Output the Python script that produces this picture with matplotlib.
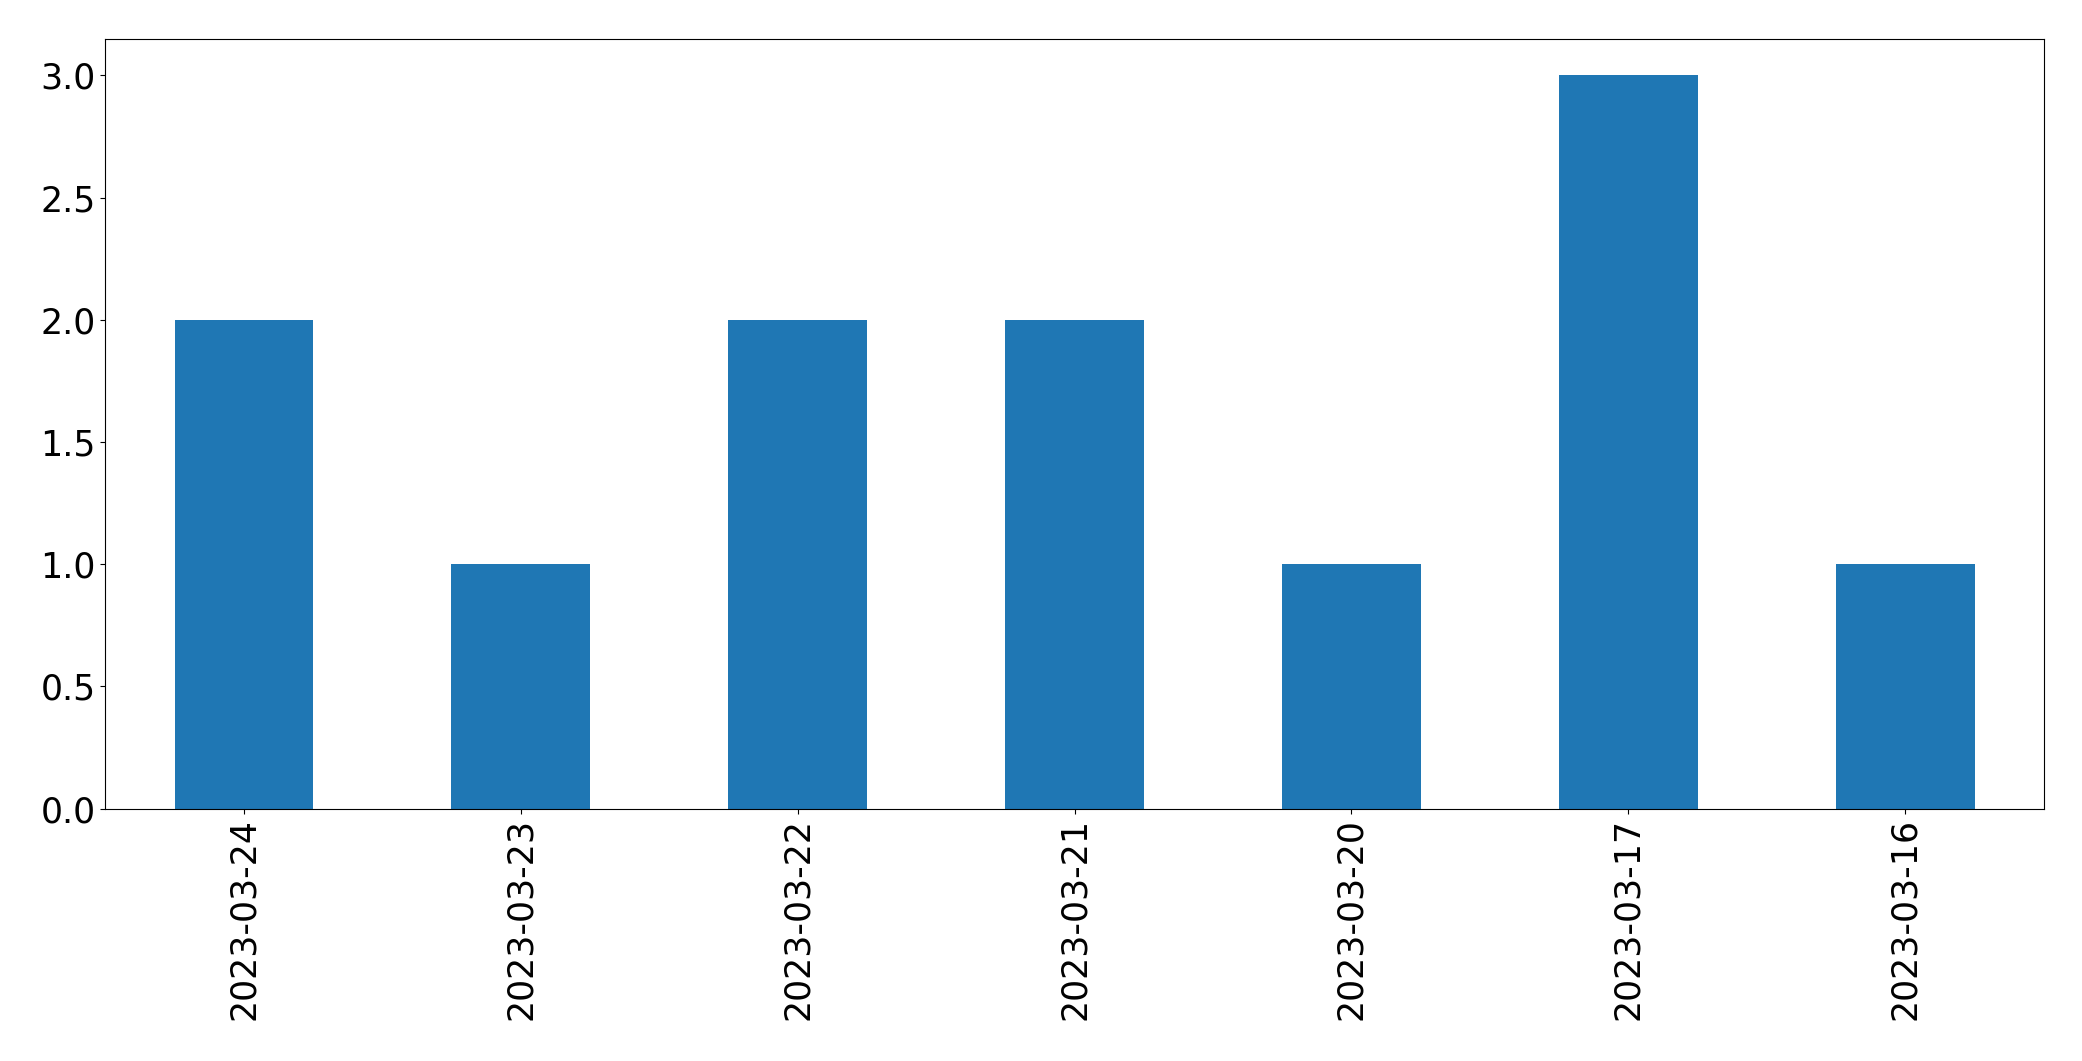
import matplotlib
matplotlib.use("Agg")
import matplotlib.pyplot as plt
import pandas as pd

dates = ["2023-03-24", "2023-03-23", "2023-03-22", "2023-03-21",
         "2023-03-20", "2023-03-17", "2023-03-16"]
counts = [2, 1, 2, 2, 1, 3, 1]

s = pd.Series(counts, index=dates)

fig = plt.figure(figsize=(20.82, 10.61), dpi=100)
ax = fig.add_axes([105.3 / 2082, 1 - 808.6 / 1061,
                   (2043.8 - 105.3) / 2082, (808.6 - 38.8) / 1061])
s.plot(kind="bar", ax=ax, color="#1f77b4", fontsize=25)
ax.tick_params(axis="both", labelsize=25)
fig.savefig("out.png", dpi=100)
